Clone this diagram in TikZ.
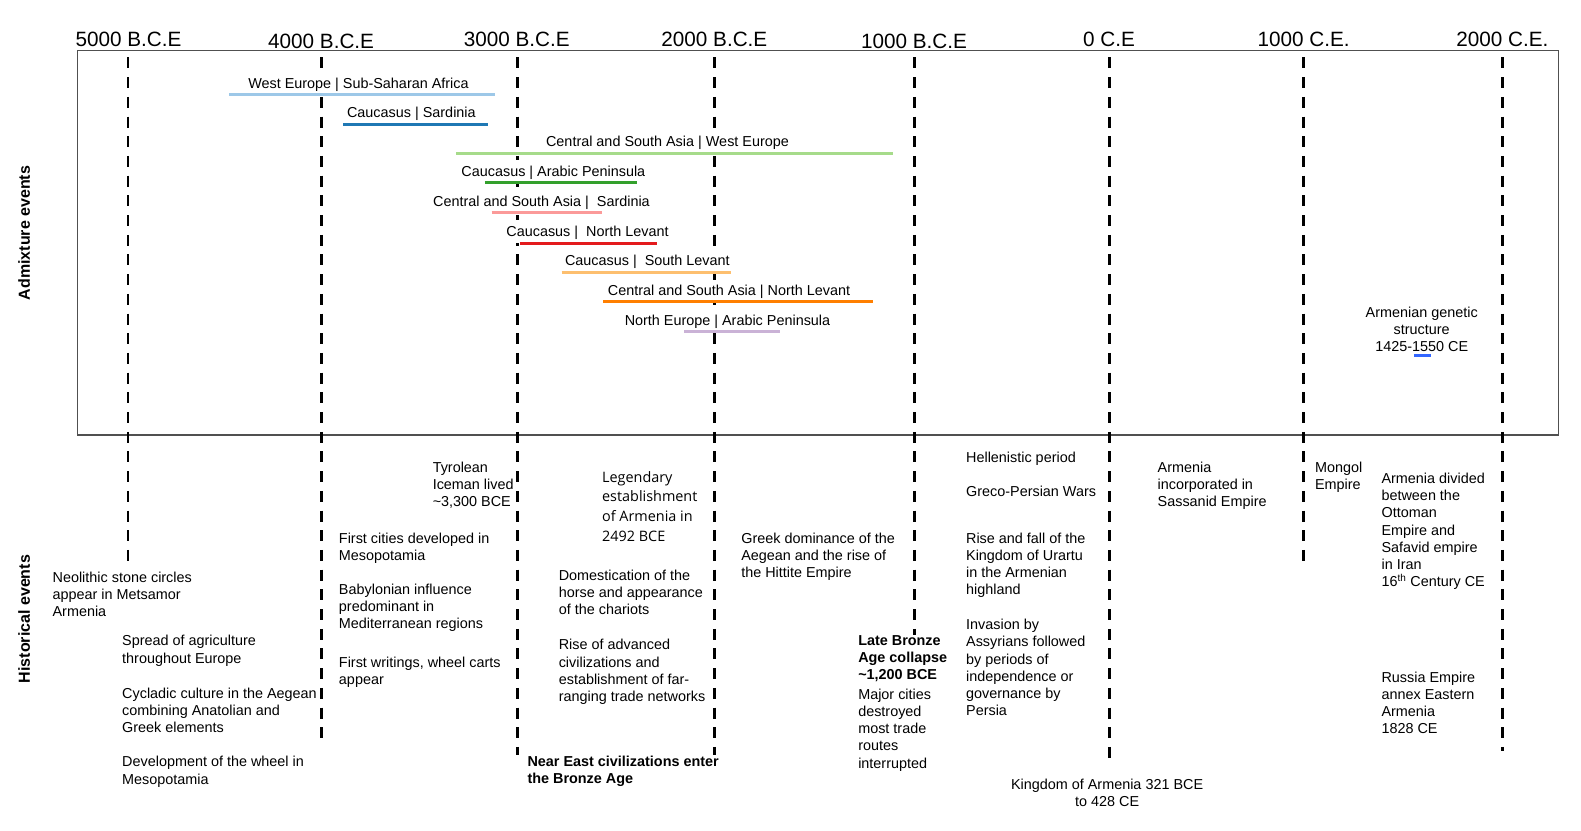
\documentclass[tikz,border=0pt]{standalone}
\usepackage{fontspec}
\setmainfont{Liberation Sans}
\newfontfamily\opensans{Open Sans}
\definecolor{cLB}{HTML}{9DC8E8}
\definecolor{cBL}{HTML}{1F78B4}
\definecolor{cLG}{HTML}{A6DB8A}
\definecolor{cGR}{HTML}{33A02C}
\definecolor{cPK}{HTML}{FB9A99}
\definecolor{cRD}{HTML}{E31A1C}
\definecolor{cLO}{HTML}{FDBF6F}
\definecolor{cOR}{HTML}{FF7F00}
\definecolor{cLV}{HTML}{CAB2D6}
\definecolor{cAB}{HTML}{3366FF}
\definecolor{frameC}{HTML}{505050}
\begin{document}
\begin{tikzpicture}[x=1.0083pt,y=-1.0083pt,
  axislab/.style={font=\fontsize{20.7}{24}\selectfont, anchor=base, inner sep=0pt},
  admix/.style={font=\fontsize{14.4}{17.3}\selectfont, anchor=base, fill=white,
    text height=12pt, text depth=3pt, inner xsep=2pt, inner ysep=4pt},
  evt/.style={font=\fontsize{14.4}{17.2}\selectfont, anchor=north west, align=left, inner sep=0pt},
  evtb/.style={evt, font=\bfseries\fontsize{14.4}{17.1}\selectfont},
  evtos/.style={evt, font=\opensans\fontsize{14.4}{19.9}\selectfont},
  bar/.style={line width=3pt},
  gridline/.style={line width=2.8pt, dash pattern=on 11pt off 8.7pt},
  side/.style={font=\bfseries\fontsize{16}{19}\selectfont, rotate=90, inner sep=0pt},
  frame/.style={draw=frameC, line width=1.3pt}]
\useasboundingbox (0,0) rectangle (1568,824);

% frame
\coordinate (fTL) at (77,50.3);
\coordinate (fBR) at (1546,431.4);
\draw[frame] (fTL) rectangle (fBR);

% axis labels
\node[axislab] (a1) at (127.5,46.6) {5000 B.C.E};
\node[axislab] (a2) at (318.5,48.3) {4000 B.C.E};
\node[axislab] (a3) at (512.5,46.6) {3000 B.C.E};
\node[axislab] (a4) at (708.5,46.6) {2000 B.C.E};
\node[axislab] (a5) at (906.5,48.3) {1000 B.C.E};
\node[axislab] (a6) at (1100,46.6) {0 C.E};
\node[axislab] (a7) at (1293,46.6) {1000 C.E.};
\node[axislab] (a8) at (1490,46.6) {2000 C.E.};

% dashed grid lines
\foreach \n/\x/\e in {1/127/556, 2/319/738, 3/513/749, 4/709/749, 5/907/630, 6/1100/752, 7/1293/557, 8/1490/745}{
  \coordinate (g\n t) at (\x,57);
  \coordinate (g\n b) at (\x,\e);
  \draw[gridline] (g\n t) -- (g\n b);
}

% admixture labels (white boxes hide the grid lines behind them)
\node[admix] (l1) at (355.5,87.5) {West Europe | Sub-Saharan Africa};
\node[admix] (l2) at (408,117) {Caucasus | Sardinia};
\node[admix] (l3) at (662,145.7) {Central and South Asia | West Europe};
\node[admix] (l4) at (548.8,174.8) {Caucasus | Arabic Peninsula};
\node[admix] (l5) at (537,204.5) {Central and South Asia |~ Sardinia};
\node[admix] (l6) at (582.7,234.5) {Caucasus |~ North Levant};
\node[admix] (l7) at (642,263.6) {Caucasus |~ South Levant};
\node[admix] (l8) at (723,293.2) {Central and South Asia | North Levant};
\node[admix] (l9) at (721.5,322.6) {North Europe | Arabic Peninsula};
\node[evt, anchor=north, align=center] (l10) at (1410,304.2) {Armenian genetic\\structure\\1425-1550 CE};

% admixture bars
\foreach \n/\xa/\xb/\y/\c in {1/227.5/491/93.8/cLB, 2/340.5/483.5/123.3/cBL, 3/452/886/152/cLG, 4/481/632/181.2/cGR, 5/487.6/596.7/210.9/cPK, 6/515.7/651.3/241/cRD, 7/557/725/270/cLO, 8/598.3/865.5/299.5/cOR, 9/678.4/773.6/329/cLV, 10/1402.4/1418.9/352.5/cAB}{
  \coordinate (b\n s) at (\xa,\y);
  \coordinate (b\n e) at (\xb,\y);
  \draw[bar, \c] (b\n s) -- (b\n e);
}

% side labels
\node[side] (sAdm) at (24,231) {Admixture events};
\node[side] (sHist) at (24,614) {Historical events};

% historical events
\node[evt] (e1) at (52,567) {Neolithic stone circles\\appear in Metsamor\\Armenia};
\node[evt] (e2) at (121,630) {Spread of agriculture\\throughout Europe};
\node[evt] (e3) at (121,682) {Cycladic culture in the Aegean\\combining Anatolian and\\Greek elements};
\node[evt] (e4) at (121,750) {Development of the wheel in\\Mesopotamia};
\node[evt] (e5) at (429,458) {Tyrolean\\Iceman lived\\\textasciitilde3,300 BCE};
\node[evt] (e6) at (336,528) {First cities developed in\\Mesopotamia};
\node[evt] (e7) at (336,579) {Babylonian influence\\predominant in\\Mediterranean regions};
\node[evt] (e8) at (336,651) {First writings, wheel carts\\appear};
\node[evtb] (e9) at (523,750) {Near East civilizations enter\\the Bronze Age};
\node[evtos] (e10) at (597,467) {Legendary\\establishment\\of Armenia in\\2492 BCE};
\node[evt] (e11) at (554,565) {Domestication of the\\horse and appearance\\of the chariots};
\node[evt] (e12) at (554,634) {Rise of advanced\\civilizations and\\establishment of far-\\ranging trade networks};
\node[evt] (e13) at (735,528) {Greek dominance of the\\Aegean and the rise of\\the Hittite Empire};
\node[evtb] (e14) at (851,630) {Late Bronze\\Age collapse\\\textasciitilde1,200 BCE};
\node[evt] (e15) at (851,683) {Major cities\\destroyed\\most trade\\routes\\interrupted};
\node[evt] (e16) at (958,448) {Hellenistic period};
\node[evt] (e17) at (958,482) {Greco-Persian Wars};
\node[evt] (e18) at (958,528) {Rise and fall of the\\Kingdom of Urartu\\in the Armenian\\highland};
\node[evt] (e19) at (958,614) {Invasion by\\Assyrians followed\\by periods of\\independence or\\governance by\\Persia};
\node[evt, anchor=north, align=center] (e20) at (1098,772) {Kingdom of Armenia 321 BCE\\to 428 CE};
\node[evt] (e21) at (1148,458) {Armenia\\incorporated in\\Sassanid Empire};
\node[evt] (e22) at (1304,458) {Mongol\\Empire};
\node[evt] (e23) at (1370,469) {Armenia divided\\between the\\Ottoman\\Empire and\\Safavid empire\\in Iran\\16\textsuperscript{th} Century CE};
\node[evt] (e24) at (1370,666) {Russia Empire\\annex Eastern\\Armenia\\1828 CE};
\end{tikzpicture}
\end{document}
